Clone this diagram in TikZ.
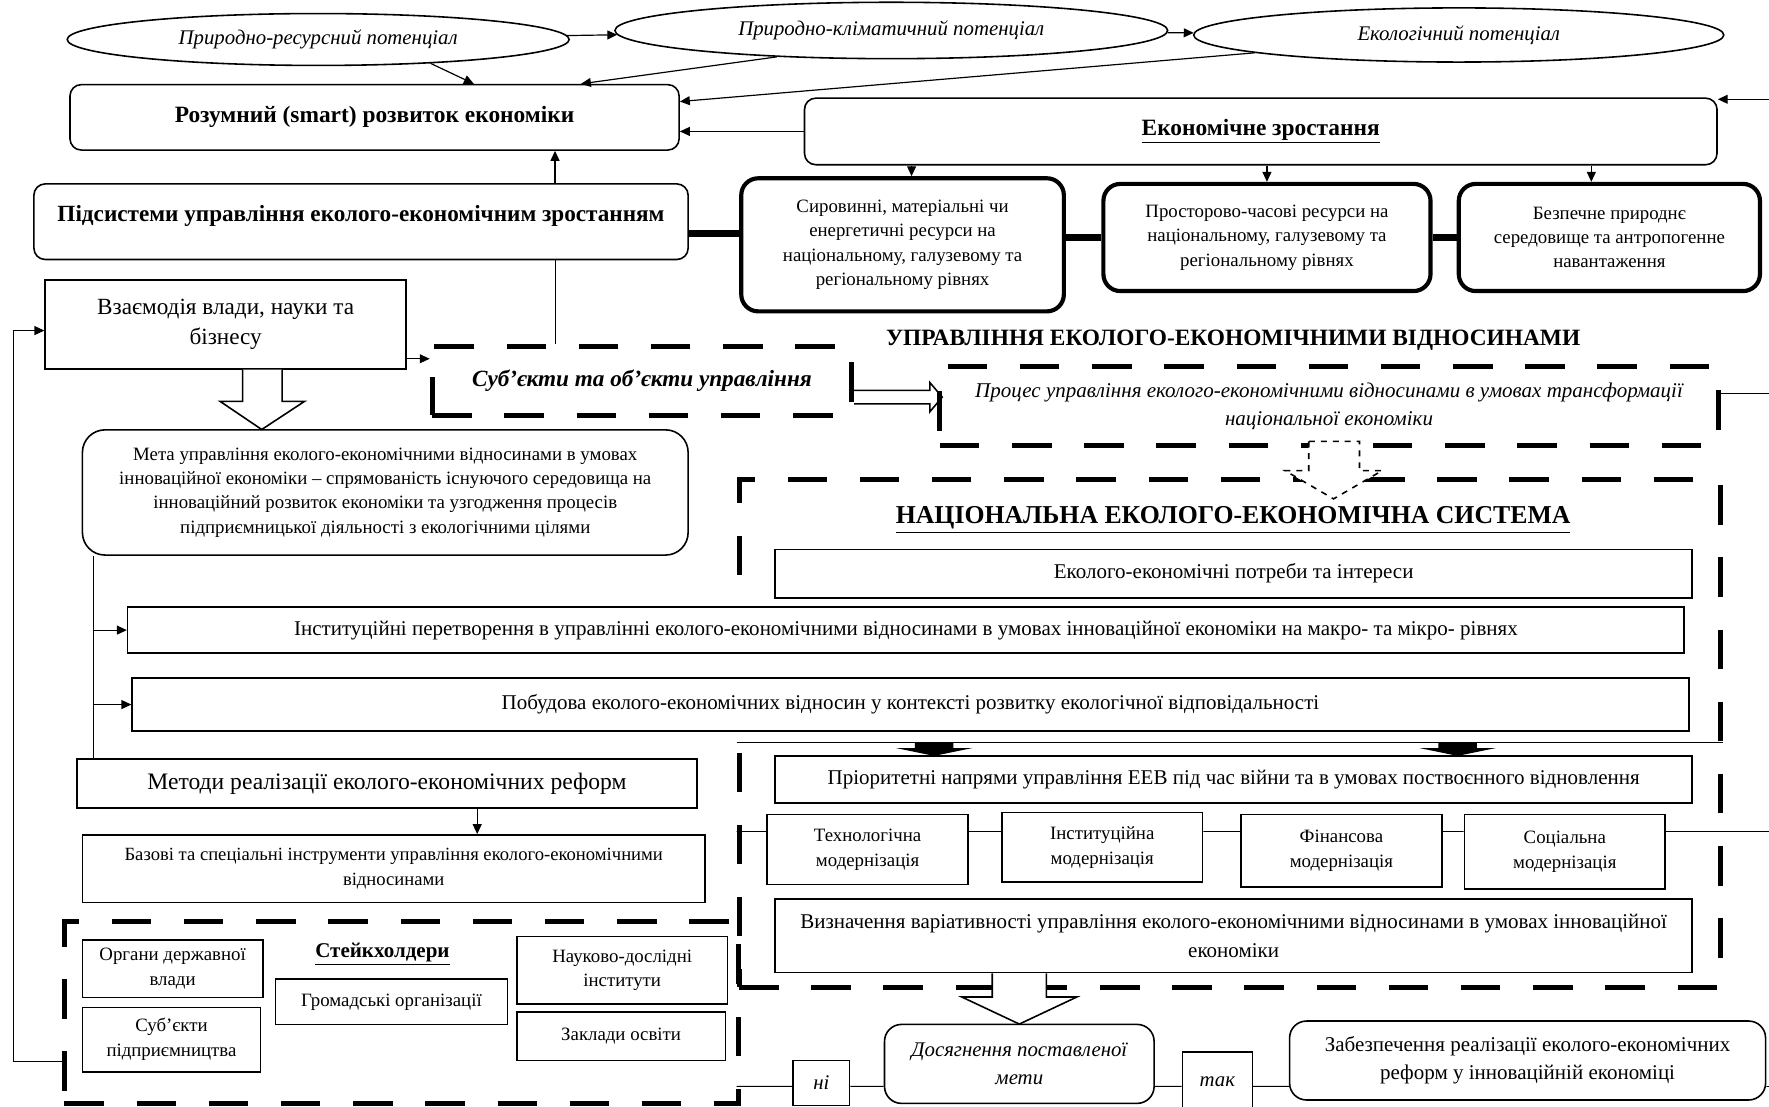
\documentclass[tikz,border=0pt]{standalone}
\usepackage{fontspec}
\setmainfont{Liberation Serif}
\usetikzlibrary{shapes.geometric,arrows.meta,positioning,calc}
\newcommand{\fsz}[2]{\fontsize{#1}{#2}\selectfont}

\begin{document}
\begin{tikzpicture}[x=0.02cm,y=-0.02cm,
  box/.style={draw, fill=white, line width=0.8pt, align=center, inner sep=0pt, font=\fsz{9.5}{12.5}},
  rbox/.style={box, rounded corners=0.2cm},
  tbox/.style={box, rounded corners=0.3cm, line width=2.1pt, font=\fsz{9.5}{12.3}},
  dbox/.style={draw, line width=2.5pt, dash pattern=on 0.7cm off 0.58cm, align=center, inner sep=0pt},
  pot/.style={draw, ellipse, line width=0.8pt, inner sep=0pt, font=\fsz{10.5}{13}\itshape},
  arr/.style={-{Triangle[length=5pt,width=4.5pt]}, line width=0.6pt},
  link/.style={line width=3.4pt},
  hollow/.style={draw, line width=0.8pt, fill=white, line join=miter},
]
\useasboundingbox (0,0) rectangle (1568,981);

% potentials
\node[pot, minimum width=8.9cm, minimum height=0.92cm] (E1) at (282,35) {Природно-ресурсний потенціал};
\node[pot, minimum width=9.8cm, minimum height=1.0cm] (E2) at (790,27) {Природно-кліматичний потенціал};
\node[pot, minimum width=9.4cm, minimum height=0.96cm] (E3) at (1293,31) {Екологічний потенціал};

\node[rbox, minimum width=10.8cm, minimum height=1.16cm, font=\fsz{11.8}{14}\bfseries] (smart) at (332,104) {Розумний (smart) розвиток економіки};
\node[rbox, minimum width=16.18cm, minimum height=1.18cm, font=\fsz{11.8}{14}\bfseries] (growth) at (1117.5,116.5) {\underline{Економічне зростання}};
\node[rbox, minimum width=11.6cm, minimum height=1.34cm, text height=0.3cm, text depth=0.3cm, font=\fsz{11.7}{14}\bfseries] (subsys) at (320,196.5) {Підсистеми управління еколого-економічним зростанням};

\node[tbox, minimum width=5.72cm, minimum height=2.36cm] (raw) at (800,217) {Сировинні, матеріальні чи\\ енергетичні ресурси на\\ національному, галузевому та\\ регіональному рівнях};
\node[tbox, minimum width=5.8cm, minimum height=1.9cm] (space) at (1123,210.5) {Просторово-часові ресурси на\\ національному, галузевому та\\ регіональному рівнях};
\node[tbox, minimum width=5.34cm, minimum height=1.9cm] (safe) at (1426.5,210.5) {Безпечне природнє\\ середовище та антропогенне\\ навантаження};

\node[box, minimum width=6.4cm, minimum height=1.58cm, font=\fsz{11.7}{15.3}] (power) at (200,287.5) {Взаємодія влади, науки та\\ бізнесу};
\node[dbox, minimum width=7.44cm, minimum height=1.22cm, font=\fsz{11.7}{14}\bfseries\itshape] (subj) at (569,337.5) {Суб’єкти та об’єкти управління};
\node[font=\fsz{11.8}{14}\bfseries] (mgmt) at (1093,302) {УПРАВЛІННЯ ЕКОЛОГО-ЕКОНОМІЧНИМИ ВІДНОСИНАМИ};
\node[dbox, minimum width=13.8cm, minimum height=1.4cm, font=\fsz{10.6}{14.2}\itshape] (proc) at (1178,360) {Процес управління еколого-економічними відносинами в умовах трансформації\\ національної економіки};

\node[rbox, rounded corners=0.4cm, minimum width=10.74cm, minimum height=2.22cm, font=\fsz{9.5}{12.3}] (goal) at (341.5,436.5) {Мета управління еколого-економічними відносинами в умовах\\ інноваційної економіки -- спрямованість існуючого середовища на\\ інноваційний розвиток економіки та узгодження процесів\\ підприємницької діяльності з екологічними цілями};

% national system
\node[dbox, minimum width=17.4cm, minimum height=9cm] (nat) at (1090,650) {};
\node[font=\fsz{13}{15}\bfseries] (natt) at (1093,461) {\underline{НАЦІОНАЛЬНА ЕКОЛОГО-ЕКОНОМІЧНА СИСТЕМА}};
\node[box, minimum width=16.26cm, minimum height=0.86cm, font=\fsz{10.6}{13}] (needs) at (1093.5,508.5) {Еколого-економічні потреби та інтереси};
\node[box, minimum width=27.6cm, minimum height=0.82cm, font=\fsz{10.6}{13}] (inst) at (803,558.5) {Інституційні перетворення в управлінні еколого-економічними відносинами в умовах інноваційної економіки на макро- та мікро- рівнях};
\node[box, minimum width=27.6cm, minimum height=0.94cm, font=\fsz{10.6}{13}] (build) at (807,624.5) {Побудова еколого-економічних відносин у контексті розвитку екологічної відповідальності};
\node[box, minimum width=11cm, minimum height=0.86cm, font=\fsz{11.9}{14}] (meth) at (343,694.5) {Методи реалізації еколого-економічних реформ};
\node[box, minimum width=11.04cm, minimum height=1.2cm, font=\fsz{9.4}{12.3}] (tools) at (349,770) {Базові та спеціальні інструменти управління еколого-економічними\\ відносинами};
\node[box, minimum width=16.26cm, minimum height=0.84cm, font=\fsz{10.6}{13}] (prior) at (1093.5,691) {Пріоритетні напрями управління ЕЕВ під час війни та в умовах поствоєнного відновлення};

\node[box, minimum width=3.56cm, minimum height=1.24cm] (tech) at (769,753) {Технологічна\\ модернізація};
\node[box, minimum width=3.56cm, minimum height=1.24cm] (instm) at (977,751) {Інституційна\\ модернізація};
\node[box, minimum width=3.56cm, minimum height=1.28cm] (fin) at (1189,754) {Фінансова\\ модернізація};
\node[box, minimum width=3.56cm, minimum height=1.32cm] (soc) at (1387,755) {Соціальна\\ модернізація};
\node[box, minimum width=16.26cm, minimum height=1.3cm, font=\fsz{10.6}{14.7}] (var) at (1093.5,829.5) {Визначення варіативності управління еколого-економічними відносинами в умовах інноваційної\\ економіки};

\node[rbox, rounded corners=0.3cm, minimum width=4.78cm, minimum height=1.4cm, font=\fsz{10.5}{14}\itshape] (reach) at (903.5,943) {Досягнення поставленої\\ мети};
\node[box, minimum width=1.0cm, minimum height=0.8cm, font=\fsz{10.5}{13}\itshape] (no) at (728,960) {ні};
\node[box, minimum width=1.24cm, minimum height=1.04cm, font=\fsz{10.5}{13}\itshape] (yes) at (1079,958.5) {так};
\node[rbox, rounded corners=0.3cm, minimum width=8.44cm, minimum height=1.4cm, font=\fsz{10.6}{14}] (ensure) at (1354,940) {Забезпечення реалізації еколого-економічних\\ реформ у інноваційній економіці};

% stakeholders
\node[dbox, minimum width=11.96cm, minimum height=3.22cm] (stake) at (356,897.5) {};
\node[font=\fsz{10.6}{13}\bfseries] (staket) at (339,846) {\underline{Стейкхолдери}};
\node[box, minimum width=3.2cm, minimum height=1.02cm] (gov) at (153,858.5) {Органи державної\\ влади};
\node[box, minimum width=3.16cm, minimum height=1.14cm] (biz) at (152,921.5) {Суб’єкти\\ підприємництва};
\node[box, minimum width=4.12cm, minimum height=0.8cm] (ngo) at (347,888) {Громадські організації};
\node[box, minimum width=3.74cm, minimum height=1.2cm] (sci) at (551.5,860) {Науково-дослідні\\ інститути};
\node[box, minimum width=3.7cm, minimum height=0.86cm] (edu) at (550.5,918.5) {Заклади освіти};

% helper points
\coordinate (s1) at ([xshift=1.76cm]smart.north);
\coordinate (s2) at ([xshift=3.66cm]smart.north);
\coordinate (s3) at ([yshift=0.28cm]smart.east);
\coordinate (sp) at ([xshift=3.44cm]subsys.north);
\coordinate (sq) at ([xshift=-1.54cm]subj.north);
\coordinate (pj) at ([yshift=-0.21cm]subsys.east);
\coordinate (r1) at ([xshift=0.16cm]raw.north);
\coordinate (r3) at ([xshift=-0.32cm]safe.north);
\coordinate (pw) at ([yshift=-0.61cm]power.east);
\coordinate (gl) at ([xshift=0.2cm]goal.south west);
\coordinate (mt) at ([xshift=1.6cm]meth.south);
\coordinate (ml) at ([yshift=-1.74cm]nat.west);
\coordinate (bl) at ([yshift=-6.26cm]nat.west);
\coordinate (edgeA) at (1568,88);
\coordinate (edgeB) at (1568,349);
\coordinate (edgeC) at (1568,737);
\coordinate (edgeD) at (1568,963);

% connectors
\draw[arr] (E1) -- (E2);
\draw[arr] (E2) -- (E3);
\draw[arr] (E1.-12) -- (s1);
\draw[arr] (E2.-167) -- (s2);
\draw[arr] (E3.-175) -- (s3);
\draw[arr] (edgeA) -- (edgeA -| growth.east);
\draw[arr] (growth.west) -- (growth.west -| smart.east);
\draw[arr] (sp) -- (sp |- smart.south);
\draw (sq) -- (sq |- subsys.south);
\draw[link] (pj) -- (pj -| raw.west);
\draw[link] (raw.east |- space.west) -- (space.west);
\draw[link] (space.east) -- (safe.west);
\draw[arr] (r1 |- growth.south) -- (r1);
\draw[arr] (space.north |- growth.south) -- (space.north);
\draw[arr] (r3 |- growth.south) -- (r3);
\draw[arr] (pw) -- (pw -| subj.west);
\draw[arr] ([yshift=-0.87cm]stake.west) -- ++(-43,0) |- ([yshift=-0.11cm]power.west);
\draw (proc.east |- edgeB) -- (edgeB);
\draw (gl) -- (gl |- meth.north);
\draw[arr] (gl |- inst.west) -- (inst.west);
\draw[arr] (gl |- build.west) -- (build.west);
\draw[arr] (mt) -- (mt |- tools.north);
\draw ([yshift=-0.16cm]nat.west) -- ([yshift=-0.16cm]nat.east);
\foreach \px in {828,1292}
  \fill (\px,658) ++(-17,0) -- ++(34,0) -- ++(0,5) -- ++(17,0) -- ++(-34,7) -- ++(-34,-7) -- ++(17,0) -- cycle;
\draw (ml) -- (ml -| tech.west) (tech.east |- ml) -- (ml -| instm.west)
  (instm.east |- ml) -- (ml -| fin.west) (fin.east |- ml) -- (ml -| soc.west)
  (soc.east |- ml) -- (edgeC);
\draw (bl) -- (bl -| no.west) (no.east |- bl) -- (bl -| reach.west)
  (reach.east |- bl) -- (bl -| yes.west) (yes.east |- bl) -- (bl -| ensure.west)
  (ensure.east |- bl) -- (edgeD);

% block arrows
\draw[hollow] ($(power.south)+(15,0)$) -- ++(0,28) -- ++(-20,0) -- ++(37,25) -- ++(38,-25) -- ++(-20,0) -- ++(0,-28);
\draw[hollow] ($(var.south -| reach.north)+(-24,0)$) -- ++(0,21) -- ++(-27,0) -- ++(51,24) -- ++(51,-24) -- ++(-27,0) -- ++(0,-21);
\draw[hollow, dashed] ($(proc.south)+(-18,-6)$) -- ++(0,26) -- ++(-21,0) -- ++(43,25) -- ++(43,-25) -- ++(-20,0) -- ++(0,-26) -- cycle;
\draw[line width=0.8pt, line join=miter] ($(subj.east)+(0,8.5)$) -- ++(67,0) -- ++(0,-7) -- ++(11,13) -- ++(-11,13) -- ++(0,-7) -- ++(-67,0);
\end{tikzpicture}
\end{document}
